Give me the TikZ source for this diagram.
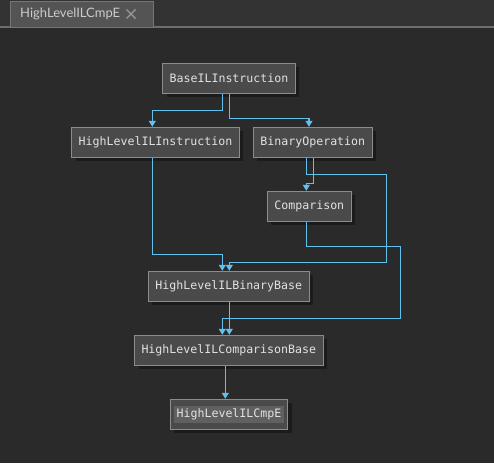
\documentclass[tikz,border=0pt]{standalone}
\usepackage{fontspec}
\setmonofont{DejaVu Sans Mono}
\newfontfamily\tabfont{Lato}
\usetikzlibrary{arrows.meta,shadows}
\definecolor{bgc}{HTML}{2A2A2A}
\definecolor{barc}{HTML}{333333}
\definecolor{tabc}{HTML}{545454}
\definecolor{boxc}{HTML}{4A4A4A}
\definecolor{linec}{HTML}{8C8C8C}
\definecolor{shadc}{HTML}{1B1B1B}
\definecolor{textc}{HTML}{E2E2E2}
\definecolor{hilite}{HTML}{606060}
\definecolor{edgec}{HTML}{62C0EC}
\begin{document}
\begin{tikzpicture}[x=1pt,y=-1pt,
    box/.style={draw=linec,fill=boxc,line width=1pt,text=textc,
      font=\fontsize{11.6}{13}\ttfamily,inner xsep=7pt,inner ysep=0pt,
      minimum height=30pt,
      drop shadow={shadow xshift=4pt,shadow yshift=-4pt,fill=shadc,opacity=1}},
    edge/.style={draw=edgec,line width=1.1pt,-{Triangle[width=7pt,length=6pt]}}]
    \useasboundingbox (0,0) rectangle (494,463);
    \fill[bgc] (0,0) rectangle (494,463);
    % tab bar
    \fill[barc] (0,0) rectangle (494,26);
    \fill[tabc!85!white] (0,26) rectangle (494,27.5);
    \filldraw[fill=tabc,draw=tabc!80!white] (10,1) rectangle (153,27);
    \node[anchor=west,inner sep=0pt,text=textc!90!black,font=\fontsize{13}{15}\tabfont] (tab) at (20,14) {HighLevelILCmpE};
    \draw[gray!80,line width=1.2pt] (126.5,9.5) -- (135.5,18.5);
    \draw[gray!80,line width=1.2pt] (126.5,18.5) -- (135.5,9.5);
    % nodes
    \node[box] (base) at (229,78.3) {BaseILInstruction};
    \node[box] (hlil) at (155.5,142.3) {HighLevelILInstruction};
    \node[box] (binop) at (312.8,142.3) {BinaryOperation};
    \node[box] (cmp) at (309.3,206.3) {Comparison};
    \node[box] (binbase) at (228.8,286.3) {HighLevelILBinaryBase};
    \node[box] (cmpbase) at (228.8,350.3) {HighLevelILComparisonBase};
    \node[box,inner xsep=4pt] (cmpe) at (229,414.3) {\setlength{\fboxsep}{2.6pt}\colorbox{hilite}{HighLevelILCmpE}};
    % edges
    \draw[edge] ([xshift=-6.7pt]base.south) -- ++(0,17) -| ([xshift=-3.2pt]hlil.north);
    \draw[edge] ([xshift=0.7pt]base.south) -- ++(0,24.7) -| ([xshift=-3.8pt]binop.north);
    \draw[edge] ([xshift=-3.2pt]hlil.south) -- ++(0,97) -| ([xshift=-6.5pt]binbase.north);
    \draw[edge] ([xshift=-6.1pt]binop.south) -- ++(0,17) -| (386.3,262.3) -| ([xshift=0.5pt]binbase.north);
    \draw[edge] ([xshift=0.5pt]binop.south) -- ++(0,26) -| ([xshift=-3pt]cmp.north);
    \draw[edge] ([xshift=-3pt]cmp.south) -- ++(0,25) -| (400.3,318.3) -| ([xshift=-6.5pt]cmpbase.north);
    \draw[edge] ([xshift=0.5pt]binbase.south) -- ([xshift=0.5pt]cmpbase.north);
    \draw[edge] ([xshift=-3.5pt]cmpbase.south) -- ([xshift=-3.7pt]cmpe.north);
\end{tikzpicture}
\end{document}
